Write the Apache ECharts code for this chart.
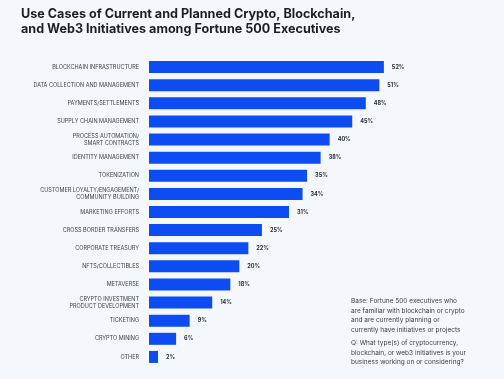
<!DOCTYPE html>
<html><head><meta charset="utf-8">
<script src="https://cdn.jsdelivr.net/npm/echarts@6/dist/echarts.min.js"></script>
<style>html,body{margin:0;padding:0;background:#f4f7fc;}#c{width:504px;height:379px;}</style>
</head><body><div id="c"></div>
<script>
const categories = [
  "BLOCKCHAIN INFRASTRUCTURE",
  "DATA COLLECTION AND MANAGEMENT",
  "PAYMENTS/SETTLEMENTS",
  "SUPPLY CHAIN MANAGEMENT",
  "PROCESS AUTOMATION/\nSMART CONTRACTS",
  "IDENTITY MANAGEMENT",
  "TOKENIZATION",
  "CUSTOMER LOYALTY/ENGAGEMENT/\nCOMMUNITY BUILDING",
  "MARKETING EFFORTS",
  "CROSS BORDER TRANSFERS",
  "CORPORATE TREASURY",
  "NFTS/COLLECTIBLES",
  "METAVERSE",
  "CRYPTO INVESTMENT\nPRODUCT DEVELOPMENT",
  "TICKETING",
  "CRYPTO MINING",
  "OTHER"
];
const values = [52, 51, 48, 45, 40, 38, 35, 34, 31, 25, 22, 20, 18, 14, 9, 6, 2];
const titleText = "Use Cases of Current and Planned Crypto, Blockchain,\nand Web3 Initiatives among Fortune 500 Executives";
const noteBase = "Base: Fortune 500 executives who\nare familiar with blockchain or crypto\nand are currently planning or\ncurrently have initiatives or projects";
const noteQ = "Q: What type(s) of cryptocurrency,\nblockchain, or web3 initiatives is your\nbusiness working on or considering?";

const chart = echarts.init(document.getElementById('c'), null, {renderer: 'canvas'});
chart.setOption({
  backgroundColor: '#f4f7fc',
  animation: false,
  title: {
    text: titleText,
    left: 21, top: 7, padding: 0,
    textStyle: {fontFamily: 'Inter', fontSize: 12.6, fontWeight: 'bold', color: '#1b1f24', lineHeight: 15}
  },
  graphic: [
    {type: 'text', left: 351, top: 296, style: {text: noteBase, font: '6.5px Inter', fill: '#3a3f46', lineHeight: 9.8}},
    {type: 'text', left: 351, top: 338, style: {text: noteQ, font: '6.5px Inter', fill: '#3a3f46', lineHeight: 9.8}}
  ],
  grid: {left: 149, right: 84, top: 58, bottom: 13, containLabel: false},
  xAxis: {type: 'value', min: 0, max: 60, show: false},
  yAxis: {
    type: 'category', data: categories, inverse: true,
    axisLine: {show: false}, axisTick: {show: false},
    axisLabel: {margin: 10, fontFamily: 'Inter', fontSize: 5.5, color: '#3d4249', lineHeight: 6.8, align: 'right'}
  },
  series: [{
    type: 'bar', data: values, barWidth: 12,
    itemStyle: {color: '#0d4cf3'},
    label: {show: true, position: 'right', distance: 8, formatter: '{c}%', fontFamily: 'Inter', fontSize: 5.5, fontWeight: 'bold', color: '#2b2f36'}
  }]
});
</script></body></html>
